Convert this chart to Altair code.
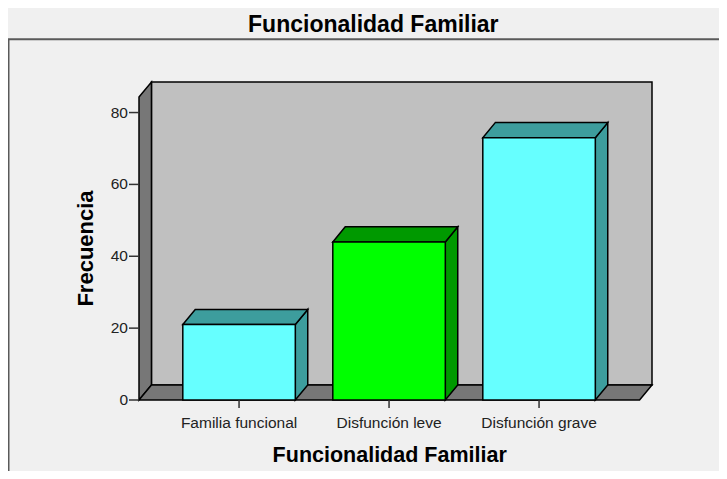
import altair as alt
import pandas as pd

# ---- data ----
categorias = ["Familia funcional", "Disfunción leve", "Disfunción grave"]
frecuencias = [21, 44, 73]
marcas_y = [0, 20, 40, 60, 80]
titulo = "Funcionalidad Familiar"
titulo_x = "Funcionalidad Familiar"
titulo_y = "Frecuencia"

# ---- style / geometry constants (x in category units, y in frequency units) ----
COLOR_FRENTE = ["#66FFFF", "#00FF00", "#66FFFF"]
COLOR_SOMBRA = ["#3D9D9D", "#009900", "#3D9D9D"]
MEDIO = 0.375      # half bar width
PX = 0.083         # 3D depth along x
PY = 4.2           # 3D depth along y
X_MIN, X_MAX = -0.667, 2.753
Y_MAX = 88.5
W, H = 513, 318
FONT = "Liberation Sans"

idx = list(range(len(categorias)))

frente = pd.DataFrame({
    "categoria": categorias,
    "x0": [i - MEDIO for i in idx],
    "x1": [i + MEDIO for i in idx],
    "v": frecuencias,
    "base": [0 for _ in idx],
})

lado_rows, tapa_rows = [], []
for i, c, v in zip(idx, categorias, frecuencias):
    lado_rows.append({"categoria": c, "x": i + MEDIO, "y": v, "y2": 0})
    lado_rows.append({"categoria": c, "x": i + MEDIO + PX, "y": v + PY, "y2": PY})
    tapa_rows.append({"categoria": c, "y": v, "x": i - MEDIO, "x2": i + MEDIO})
    tapa_rows.append({"categoria": c, "y": v + PY, "x": i - MEDIO + PX, "x2": i + MEDIO + PX})
lado = pd.DataFrame(lado_rows)
tapa = pd.DataFrame(tapa_rows)

pared_fondo = pd.DataFrame({"x": [X_MIN + PX], "x2": [X_MAX], "y": [PY], "y2": [Y_MAX]})
pared_izq = pd.DataFrame({"x": [X_MIN, X_MIN + PX], "y": [Y_MAX - PY, Y_MAX], "y2": [0, PY]})
piso = pd.DataFrame({"y": [0, PY], "x": [X_MIN, X_MIN + PX], "x2": [X_MAX - PX, X_MAX]})
ticks_x = pd.DataFrame({"pos": idx, "categoria": categorias})
ticks_y = pd.DataFrame({"v": marcas_y})
uno = pd.DataFrame({"k": [0]})

xs = alt.Scale(domain=[X_MIN, X_MAX], nice=False, zero=False)
ys = alt.Scale(domain=[0, Y_MAX], nice=False, zero=False)

fondo = alt.Chart(pared_fondo).mark_rect(fill="#C0C0C0", stroke="black", strokeWidth=1.5).encode(
    x=alt.X("x:Q", scale=xs, axis=None), x2="x2:Q",
    y=alt.Y("y:Q", scale=ys, axis=None), y2="y2:Q",
)
izq = alt.Chart(pared_izq).mark_area(fill="#777777", stroke="black", strokeWidth=1.5, orient="vertical").encode(
    x=alt.X("x:Q", scale=xs, axis=None),
    y=alt.Y("y:Q", scale=ys, axis=None, stack=None), y2="y2:Q",
)
suelo = alt.Chart(piso).mark_area(fill="#777777", stroke="black", strokeWidth=1.5, orient="horizontal").encode(
    y=alt.Y("y:Q", scale=ys, axis=None),
    x=alt.X("x:Q", scale=xs, axis=None, stack=None), x2="x2:Q",
)
lados = alt.Chart(lado).mark_area(stroke="black", strokeWidth=1.5, orient="vertical", opacity=1).encode(
    x=alt.X("x:Q", scale=xs, axis=None),
    y=alt.Y("y:Q", scale=ys, axis=None, stack=None), y2="y2:Q",
    color=alt.Color("categoria:N", scale=alt.Scale(domain=categorias, range=COLOR_SOMBRA), legend=None),
)
tapas = alt.Chart(tapa).mark_area(stroke="black", strokeWidth=1.5, orient="horizontal", opacity=1).encode(
    y=alt.Y("y:Q", scale=ys, axis=None),
    x=alt.X("x:Q", scale=xs, axis=None, stack=None), x2="x2:Q",
    color=alt.Color("categoria:N", scale=alt.Scale(domain=categorias, range=COLOR_SOMBRA), legend=None),
)
frentes = alt.Chart(frente).mark_rect(stroke="black", strokeWidth=1.5, opacity=1).encode(
    x=alt.X("x0:Q", scale=xs, axis=None), x2="x1:Q",
    y=alt.Y("v:Q", scale=ys, axis=None), y2="base:Q",
    color=alt.Color("categoria:N", scale=alt.Scale(domain=categorias, range=COLOR_FRENTE), legend=None),
)

# ---- axes drawn from the tick data through the same scales ----
marcas_izq = alt.Chart(ticks_y).mark_rule(color="#333333", strokeWidth=1.5).encode(
    y=alt.Y("v:Q", scale=ys, axis=None), x=alt.value(-10), x2=alt.value(0),
)
etiquetas_izq = alt.Chart(ticks_y).mark_text(
    font=FONT, fontSize=15.5, color="#222222", align="right", baseline="middle"
).encode(
    y=alt.Y("v:Q", scale=ys, axis=None), x=alt.value(-11), text=alt.Text("v:Q", format="d"),
)
marcas_abajo = alt.Chart(ticks_x).mark_rule(color="#333333", strokeWidth=1.5).encode(
    x=alt.X("pos:Q", scale=xs, axis=None), y=alt.value(H), y2=alt.value(H + 8),
)
etiquetas_abajo = alt.Chart(ticks_x).mark_text(
    font=FONT, fontSize=15.5, color="#222222", align="center", baseline="alphabetic"
).encode(
    x=alt.X("pos:Q", scale=xs, axis=None), y=alt.value(H + 28.3), text="categoria:N",
)
titulo_eje_x = alt.Chart(uno).mark_text(
    text=titulo_x, font=FONT, fontSize=21.5, fontWeight="bold", color="black",
    align="center", baseline="alphabetic",
).encode(x=alt.value(250.7), y=alt.value(380.3))
titulo_eje_y = alt.Chart(uno).mark_text(
    text=titulo_y, font=FONT, fontSize=22, fontWeight="bold", color="black",
    align="center", baseline="alphabetic", angle=270,
).encode(x=alt.value(-45.7), y=alt.value(166.5))
titulo_graf = alt.Chart(uno).mark_text(
    text=titulo, font=FONT, fontSize=23, fontWeight="bold", color="black",
    align="center", baseline="alphabetic",
).encode(x=alt.value(234.3), y=alt.value(-50.3))

# decorative frame around the chart (as in the SPSS output)
marco_v = alt.Chart(uno).mark_rule(color="#5A5A5A", strokeWidth=2).encode(
    x=alt.value(-130.5), y=alt.value(-42.7), y2=alt.value(400)
)
marco_h = alt.Chart(uno).mark_rule(color="#5A5A5A", strokeWidth=2).encode(
    x=alt.value(-131.5), x2=alt.value(600), y=alt.value(-42.7)
)

chart = alt.layer(
    fondo, izq, suelo, lados, tapas, frentes,
    marcas_izq, etiquetas_izq, marcas_abajo, etiquetas_abajo,
    titulo_eje_x, titulo_eje_y, titulo_graf, marco_v, marco_h,
).resolve_scale(
    color="independent"
).properties(
    width=W,
    height=H,
    autosize=alt.AutoSizeParams(type="none"),
    padding={"left": 131, "top": 74, "right": 67, "bottom": 71},
).configure(
    background="#F0F0F0",
).configure_view(stroke=None)

chart.save("out.html", embed_options={"renderer": "svg", "actions": False})
